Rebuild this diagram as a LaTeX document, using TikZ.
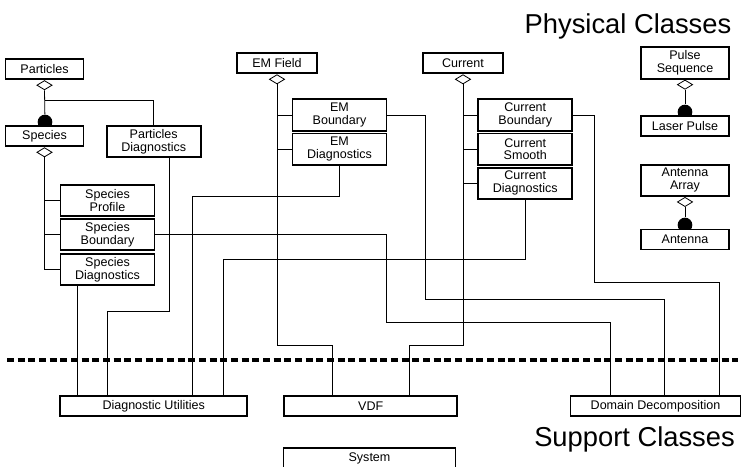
\documentclass[tikz,border=0pt]{standalone}
\usepackage{fontspec}
\setmainfont{Liberation Sans}
\usetikzlibrary{shapes.geometric}

\begin{document}
\begin{tikzpicture}[x=0.75pt,y=-0.75pt,
    cls/.style={draw,fill=white,line width=1.4pt,inner sep=1pt,align=center,font=\fontsize{9.4}{9.6}\selectfont},
    onebox/.style={cls,minimum height=15pt},
    twobox/.style={cls,minimum height=23.5pt},
    agg/.style={diamond,draw,fill=white,line width=0.6pt,inner sep=0pt,minimum width=11.5pt,minimum height=7pt,anchor=north},
    comp/.style={circle,fill=black,inner sep=0pt,minimum size=11pt},
    link/.style={line width=0.6pt},
    title/.style={font=\fontsize{20.5}{24}\selectfont,anchor=base east}]
    \clip (0,0) rectangle (742,467);

    % composition dots, half hidden by the boxes below them
    \node[comp] (spdot) at (45,122) {};
    \node[comp] (lpdot) at (685,112) {};
    \node[comp] (andot) at (685,225) {};

    % physical classes
    \node[onebox,minimum width=58.5pt] (part) at (44.5,69.2) {Particles};
    \node[onebox,minimum width=58.5pt] (spec) at (44.5,136.3) {Species};
    \node[twobox,minimum width=70.5pt] (pdiag) at (153.7,141.7) {Particles\\Diagnostics};
    \node[twobox,minimum width=70.5pt] (sprof) at (107.5,200.3) {Species\\Profile};
    \node[twobox,minimum width=70.5pt] (sbound) at (107.5,234.7) {Species\\Boundary};
    \node[twobox,minimum width=70.5pt] (sdiag) at (107.5,269.5) {Species\\Diagnostics};

    \node[onebox,minimum width=59.5pt] (emf) at (277,63.3) {EM Field};
    \node[twobox,minimum width=70.5pt] (embnd) at (339.5,115) {EM\\Boundary};
    \node[twobox,minimum width=70.5pt] (emdiag) at (339.5,149.2) {EM\\Diagnostics};

    \node[onebox,minimum width=59.5pt] (cur) at (463,63.3) {Current};
    \node[twobox,minimum width=70.5pt] (curbnd) at (525.3,115) {Current\\Boundary};
    \node[twobox,minimum width=70.5pt] (cursm) at (525.3,149.2) {Current\\Smooth};
    \node[twobox,minimum width=70.5pt] (curdiag) at (525.3,183.3) {Current\\Diagnostics};

    \node[twobox,minimum width=66.5pt] (pulse) at (685,63) {Pulse\\Sequence};
    \node[onebox,minimum width=66.5pt] (laser) at (685,126.3) {Laser Pulse};
    \node[twobox,minimum width=66.5pt] (antarr) at (685,180.3) {Antenna\\Array};
    \node[onebox,minimum width=66.5pt] (ant) at (685,239.5) {Antenna};

    % support classes
    \node[onebox,minimum width=140.5pt] (du) at (153.7,406.3) {Diagnostic Utilities};
    \node[onebox,minimum width=130pt] (vdf) at (370.7,406.3) {VDF};
    \node[onebox,minimum width=127.5pt] (dd) at (655.5,406.3) {Domain Decomposition};
    \node[onebox,minimum width=129pt] (sys) at (369.5,458) {System};

    \draw[line width=2.4pt,dash pattern=on 5.3pt off 2.7pt] (7,360) -- (738,360);
    \node[title] (phys) at (736,33.3) {Physical Classes};
    \node[title] (supp) at (739.5,446.7) {Support Classes};

    % aggregation diamonds
    \node[agg] (partd) at (part.south) {};
    \node[agg] (specd) at (spec.south) {};
    \node[agg] (emfd) at (emf.south) {};
    \node[agg] (curd) at (cur.south) {};
    \node[agg] (pulsed) at (pulse.south) {};
    \node[agg] (antarrd) at (antarr.south) {};

    \draw[link] (partd.south) -- (spdot);
    \draw[link] (partd.south) ++(0,10.3) -| (pdiag.north);
    \draw[link] (specd.south) |- (sprof.west);
    \draw[link] (specd.south) |- (sbound.west);
    \draw[link] (specd.south) |- (sdiag.west);
    \draw[link] (emfd.south) |- (embnd.west);
    \draw[link] (emfd.south) |- (emdiag.west);
    \draw[link] (curd.south) |- (curbnd.west);
    \draw[link] (curd.south) |- (cursm.west);
    \draw[link] (curd.south) |- (curdiag.west);
    \draw[link] (pulsed.south) -- (lpdot);
    \draw[link] (antarrd.south) -- (andot);

    % uses: down to the support classes
    \draw[link] (77,0 |- sdiag.south) -- (77,0 |- du.north);
    \draw[link] (169,0 |- pdiag.south) |- (107,311) -- (107,0 |- du.north);
    \draw[link] (emdiag.south) |- (192,196) -- (192,0 |- du.north);
    \draw[link] (curdiag.south) |- (223,259) -- (223,0 |- du.north);
    \draw[link] (emfd.south) |- (332,345) -- (332,0 |- vdf.north);
    \draw[link] (curd.south) |- (409,345) -- (409,0 |- vdf.north);
    \draw[link] (sbound.east) -| (386,322) -| (610,0 |- dd.north);
    \draw[link] (embnd.east) -| (425,299) -| (664,0 |- dd.north);
    \draw[link] (curbnd.east) -| (594,282) -| (719,0 |- dd.north);
\end{tikzpicture}
\end{document}
